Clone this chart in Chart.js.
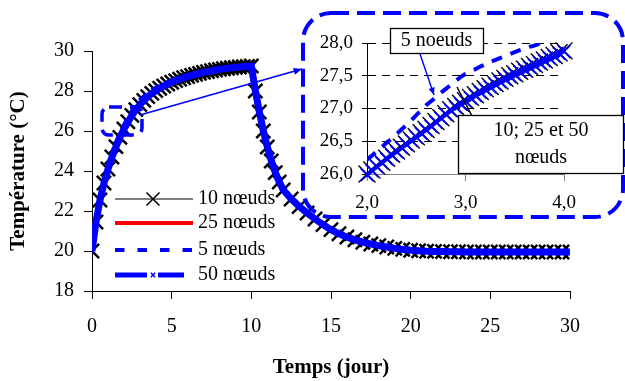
<!DOCTYPE html>
<html>
<head>
<meta charset="utf-8">
<script src="https://cdn.jsdelivr.net/npm/chart.js@4/dist/chart.umd.min.js"></script>
<style>
  html, body { margin: 0; padding: 0; background: #fff; }
  .layer { position: absolute; left: 0; top: 0; width: 625px; height: 381px; }
</style>
</head>
<body>
<div class="layer"><canvas id="main" width="625" height="381"></canvas></div>
<div class="layer"><canvas id="inset" width="625" height="381"></canvas></div>
<script>
// main chart : temps (jour) et température (°C)
const time = [0, 0.25, 0.5, 0.75, 1, 1.25, 1.5, 1.75, 2, 2.25, 2.5, 2.75, 3, 3.25, 3.5, 3.75,
  4, 4.25, 4.5, 4.75, 5, 5.25, 5.5, 5.75, 6, 6.25, 6.5, 6.75, 7, 7.25, 7.5, 7.75,
  8, 8.25, 8.5, 8.75, 9, 9.25, 9.5, 9.75, 10, 10.25, 10.5, 10.75, 11, 11.25, 11.5, 11.75,
  12, 12.5, 13, 13.5, 14, 14.5, 15, 15.5, 16, 16.5, 17, 17.5, 18, 18.5, 19, 19.5,
  20, 20.5, 21, 21.5, 22, 22.5, 23, 23.5, 24, 24.5, 25, 25.5, 26, 26.5, 27, 27.5,
  28, 28.5, 29, 29.5, 30];

const temp10 = [20.0, 21.45, 22.55, 23.4, 24.1, 24.7, 25.22, 25.68, 26.1, 26.46, 26.78, 27.07, 27.32, 27.53, 27.72, 27.88,
  28.02, 28.14, 28.25, 28.35, 28.44, 28.52, 28.59, 28.66, 28.72, 28.78, 28.83, 28.88, 28.93, 28.97, 29.01, 29.05,
  29.08, 29.11, 29.14, 29.16, 29.18, 29.2, 29.22, 29.23, 29.25, 28.0, 26.95, 26.0, 25.2, 24.5, 23.92, 23.45,
  23.05, 22.6, 22.22, 21.9, 21.6, 21.32, 21.07, 20.86, 20.7, 20.56, 20.44, 20.35, 20.27, 20.2, 20.13, 20.08,
  20.04, 20.01, 19.99, 19.98, 19.97, 19.96, 19.96, 19.95, 19.95, 19.95, 19.95, 19.95, 19.95, 19.95, 19.95, 19.95,
  19.95, 19.95, 19.95, 19.95, 19.95];

const temp25 = [20.0, 21.44, 22.54, 23.4, 24.1, 24.7, 25.21, 25.67, 26.09, 26.45, 26.77, 27.06, 27.31, 27.53, 27.72, 27.88,
  28.02, 28.14, 28.25, 28.35, 28.44, 28.52, 28.59, 28.66, 28.72, 28.78, 28.83, 28.88, 28.93, 28.97, 29.01, 29.05,
  29.08, 29.11, 29.14, 29.16, 29.18, 29.2, 29.22, 29.23, 29.25, 28.02, 26.97, 26.02, 25.21, 24.51, 23.93, 23.46,
  23.06, 22.6, 22.22, 21.9, 21.6, 21.32, 21.07, 20.86, 20.7, 20.56, 20.44, 20.35, 20.27, 20.2, 20.13, 20.08,
  20.04, 20.01, 19.99, 19.98, 19.97, 19.96, 19.96, 19.95, 19.95, 19.95, 19.95, 19.95, 19.95, 19.95, 19.95, 19.95,
  19.95, 19.95, 19.95, 19.95, 19.95];

const temp50 = [20.0, 21.44, 22.54, 23.39, 24.09, 24.69, 25.21, 25.67, 26.09, 26.45, 26.77, 27.06, 27.31, 27.52, 27.71, 27.87,
  28.01, 28.14, 28.25, 28.35, 28.44, 28.52, 28.59, 28.66, 28.72, 28.78, 28.83, 28.88, 28.93, 28.97, 29.01, 29.05,
  29.08, 29.11, 29.14, 29.16, 29.18, 29.2, 29.22, 29.23, 29.25, 28.02, 26.97, 26.02, 25.22, 24.52, 23.94, 23.46,
  23.06, 22.61, 22.23, 21.9, 21.6, 21.32, 21.07, 20.86, 20.7, 20.56, 20.44, 20.35, 20.27, 20.2, 20.13, 20.08,
  20.04, 20.01, 19.99, 19.98, 19.97, 19.96, 19.96, 19.95, 19.95, 19.95, 19.95, 19.95, 19.95, 19.95, 19.95, 19.95,
  19.95, 19.95, 19.95, 19.95, 19.95];

const temp5 = [20.0, 21.5, 22.65, 23.55, 24.3, 24.92, 25.45, 25.92, 26.32, 26.7, 27.03, 27.32, 27.56, 27.75, 27.92, 28.06,
  28.18, 28.29, 28.38, 28.47, 28.55, 28.62, 28.68, 28.74, 28.79, 28.84, 28.88, 28.92, 28.96, 29.0, 29.03, 29.06,
  29.09, 29.12, 29.14, 29.16, 29.18, 29.2, 29.22, 29.23, 29.24, 28.2, 27.2, 26.25, 25.42, 24.72, 24.12, 23.62,
  23.2, 22.7, 22.3, 21.96, 21.65, 21.37, 21.1, 20.89, 20.72, 20.58, 20.46, 20.36, 20.28, 20.21, 20.14, 20.09,
  20.05, 20.02, 20.0, 19.98, 19.97, 19.96, 19.96, 19.95, 19.95, 19.95, 19.95, 19.95, 19.95, 19.95, 19.95, 19.95,
  19.95, 19.95, 19.95, 19.95, 19.95];

const xTicks = [0, 5, 10, 15, 20, 25, 30];
const yTicks = [18, 20, 22, 24, 26, 28, 30];

// inset (zoom 2 - 4 jours)
const insetTime = [2.0, 2.05, 2.1, 2.15, 2.2, 2.25, 2.3, 2.35, 2.4, 2.45, 2.5, 2.55, 2.6, 2.65, 2.7, 2.75,
  2.8, 2.85, 2.9, 2.95, 3.0, 3.05, 3.1, 3.15, 3.2, 3.25, 3.3, 3.35, 3.4, 3.45, 3.5, 3.55,
  3.6, 3.65, 3.7, 3.75, 3.8, 3.85, 3.9, 3.95, 4.0, 4.05, 4.1];
const inset10 = [26.0, 26.06, 26.12, 26.18, 26.24, 26.3, 26.35, 26.41, 26.46, 26.52, 26.57, 26.63, 26.68, 26.74, 26.8, 26.86,
  26.92, 26.98, 27.03, 27.08, 27.12, 27.17, 27.21, 27.26, 27.3, 27.34, 27.38, 27.42, 27.46, 27.5, 27.53, 27.57,
  27.6, 27.64, 27.67, 27.71, 27.74, 27.78, 27.81, 27.85, 27.88, 27.91, 27.94];
const inset25 = [25.99, 26.05, 26.11, 26.17, 26.23, 26.29, 26.34, 26.4, 26.45, 26.51, 26.56, 26.62, 26.67, 26.73, 26.79, 26.85,
  26.91, 26.97, 27.02, 27.07, 27.11, 27.16, 27.2, 27.25, 27.29, 27.33, 27.37, 27.41, 27.45, 27.49, 27.52, 27.56,
  27.59, 27.63, 27.66, 27.7, 27.73, 27.77, 27.8, 27.84, 27.87, 27.9, 27.93];
const inset50 = [25.99, 26.05, 26.11, 26.17, 26.23, 26.29, 26.34, 26.4, 26.45, 26.51, 26.56, 26.62, 26.67, 26.73, 26.79, 26.85,
  26.91, 26.97, 27.02, 27.07, 27.11, 27.16, 27.2, 27.25, 27.29, 27.33, 27.37, 27.41, 27.45, 27.49, 27.52, 27.56,
  27.59, 27.63, 27.66, 27.7, 27.73, 27.77, 27.8, 27.84, 27.87, 27.9, 27.93];
const inset5 = [26.22, 26.28, 26.35, 26.41, 26.48, 26.54, 26.61, 26.68, 26.75, 26.82, 26.9, 26.97, 27.05, 27.11, 27.17, 27.24,
  27.3, 27.36, 27.42, 27.48, 27.53, 27.57, 27.6, 27.64, 27.67, 27.71, 27.74, 27.77, 27.8, 27.83, 27.86, 27.89,
  27.91, 27.94, 27.96, 27.99, 28.02, 28.05, 28.07, 28.1, 28.12, 28.15, 28.17];

const insetXTicks = [2, 3, 4];
const insetXLabels = ['2,0', '3,0', '4,0'];
const insetYTicks = [26, 26.5, 27, 27.5, 28];
const insetYLabels = ['26,0', '26,5', '27,0', '27,5', '28,0'];

const BLUE = '#0000ff';
const RED = '#ff0000';

Chart.defaults.font.family = 'Liberation Serif';
Chart.defaults.color = '#000';

function pts(xs, ys) {
  return xs.map((x, i) => ({ x: x, y: ys[i] }));
}

function drawCross(ctx, x, y, r, color, w) {
  ctx.save();
  ctx.setLineDash([]);
  ctx.strokeStyle = color;
  ctx.lineWidth = w;
  ctx.beginPath();
  ctx.moveTo(x - r, y - r); ctx.lineTo(x + r, y + r);
  ctx.moveTo(x + r, y - r); ctx.lineTo(x - r, y + r);
  ctx.stroke();
  ctx.restore();
}

function seg(ctx, x1, y1, x2, y2) {
  ctx.beginPath();
  ctx.moveTo(x1, y1);
  ctx.lineTo(x2, y2);
  ctx.stroke();
}

function arrow(ctx, x1, y1, x2, y2, size) {
  seg(ctx, x1, y1, x2, y2);
  const a = Math.atan2(y2 - y1, x2 - x1);
  ctx.beginPath();
  ctx.moveTo(x2, y2);
  ctx.lineTo(x2 - size * Math.cos(a - 0.4), y2 - size * Math.sin(a - 0.4));
  ctx.lineTo(x2 - size * Math.cos(a + 0.4), y2 - size * Math.sin(a + 0.4));
  ctx.closePath();
  ctx.fill();
}

function roundBox(ctx, x, y, w, h, r) {
  ctx.beginPath();
  ctx.moveTo(x + r, y);
  ctx.lineTo(x + w - r, y);
  ctx.arcTo(x + w, y, x + w, y + r, r);
  ctx.lineTo(x + w, y + h - r);
  ctx.arcTo(x + w, y + h, x + w - r, y + h, r);
  ctx.lineTo(x + r, y + h);
  ctx.arcTo(x, y + h, x, y + h - r, r);
  ctx.lineTo(x, y + r);
  ctx.arcTo(x, y, x + r, y, r);
  ctx.closePath();
}

// legend drawn like the excel one (line + marker in the middle)
const legendPlugin = {
  id: 'excelLegend',
  afterDraw(chart) {
    const ctx = chart.ctx;
    const x1 = 115, x2 = 193, tx = 198;
    ctx.save();
    ctx.font = '20px "Liberation Serif"';
    ctx.textBaseline = 'middle';
    ctx.fillStyle = '#000';

    ctx.strokeStyle = '#000'; ctx.lineWidth = 1;
    seg(ctx, x1, 199, x2, 199);
    drawCross(ctx, 153, 199, 6.5, '#000', 1.5);
    ctx.fillText('10 nœuds', tx, 199);

    ctx.strokeStyle = RED; ctx.lineWidth = 4;
    seg(ctx, x1, 223, x2, 223);
    ctx.fillText('25 nœuds', tx, 223);

    ctx.strokeStyle = BLUE; ctx.lineWidth = 4;
    ctx.setLineDash([9.5, 13]);
    seg(ctx, x1, 250, x2, 250);
    ctx.setLineDash([]);
    ctx.fillText('5 nœuds', tx, 250);

    ctx.lineWidth = 5;
    seg(ctx, x1, 275, 147, 275);
    seg(ctx, 158, 275, 184, 275);
    drawCross(ctx, 153, 275, 2.2, BLUE, 1.5);
    ctx.fillText('50 nœuds', tx, 275);
    ctx.restore();
  }
};

// zoom frame, arrows and call-outs
const notePlugin = {
  id: 'notes',
  afterDraw(chart) {
    const ctx = chart.ctx;
    ctx.save();
    ctx.strokeStyle = BLUE;
    ctx.fillStyle = BLUE;

    ctx.lineWidth = 4;
    ctx.setLineDash([18, 8]);
    roundBox(ctx, 303, 13, 320, 204, 28);
    ctx.stroke();

    ctx.lineWidth = 3.5;
    ctx.setLineDash([13, 8]);
    roundBox(ctx, 102, 107, 40, 28, 7);
    ctx.stroke();

    ctx.setLineDash([]);
    ctx.lineWidth = 1.8;
    arrow(ctx, 140, 115, 302, 69, 9);

    ctx.lineWidth = 1.4;
    arrow(ctx, 420, 54, 434, 95, 8);

    ctx.strokeStyle = '#000';
    ctx.lineWidth = 1.5;
    seg(ctx, 457, 87, 473, 118);

    ctx.fillStyle = '#fff';
    ctx.lineWidth = 1.3;
    ctx.fillRect(390, 28, 93, 25);
    ctx.strokeRect(390.5, 28.5, 93, 25);
    ctx.fillRect(458, 115, 166, 58);
    ctx.strokeRect(458.5, 115.5, 165, 58);

    ctx.fillStyle = '#000';
    ctx.font = '20px "Liberation Serif"';
    ctx.textAlign = 'center';
    ctx.textBaseline = 'middle';
    ctx.fillText('5 noeuds', 436.5, 41);
    ctx.fillText('10; 25 et 50', 541, 131);
    ctx.fillText('nœuds', 541, 158);
    ctx.restore();
  }
};

new Chart(document.getElementById('main'), {
  type: 'line',
  data: {
    datasets: [
      { label: '5 nœuds', data: pts(time, temp5), borderColor: BLUE, borderWidth: 3.5,
        borderDash: [9, 7], pointRadius: 0 },
      { label: '50 nœuds', data: pts(time, temp50), borderColor: BLUE, borderWidth: 7,
        pointStyle: 'crossRot', pointRadius: 3, pointBorderColor: BLUE, pointBorderWidth: 1.5 },
      { label: '25 nœuds', data: pts(time, temp25), borderColor: RED, borderWidth: 4, pointRadius: 0 },
      { label: '10 nœuds', data: pts(time, temp10), borderColor: '#000', borderWidth: 1,
        pointStyle: 'crossRot', pointRadius: 10, pointBorderColor: '#000', pointBorderWidth: 2.5 }
    ]
  },
  options: {
    responsive: false,
    animation: false,
    layout: { padding: { left: 0, top: 51, right: 55, bottom: 0 } },
    plugins: { legend: { display: false }, tooltip: { enabled: false } },
    elements: { line: { tension: 0, fill: false } },
    scales: {
      x: {
        type: 'linear', min: 0, max: 30,
        afterBuildTicks: s => { s.ticks = xTicks.map(v => ({ value: v })); },
        afterFit: s => { s.height = 90; },
        grid: { drawOnChartArea: false, tickLength: 8, color: '#000' },
        border: { color: '#000', width: 1 },
        ticks: { padding: 16, font: { size: 20 }, maxRotation: 0, callback: v => String(v) },
        title: { display: true, text: 'Temps (jour)', font: { size: 21, weight: 'bold' },
          padding: { top: 0, bottom: 1 } }
      },
      y: {
        type: 'linear', min: 18, max: 30,
        afterBuildTicks: s => { s.ticks = yTicks.map(v => ({ value: v })); },
        afterFit: s => { s.width = 92; },
        grid: { drawOnChartArea: false, tickLength: 8, color: '#000' },
        border: { color: '#000', width: 1 },
        ticks: { padding: 10, font: { size: 20 }, callback: v => String(v) },
        title: { display: true, text: 'Température (°C)', font: { size: 21, weight: 'bold' },
          padding: { top: 6, bottom: 0 } }
      }
    }
  },
  plugins: [legendPlugin]
});

new Chart(document.getElementById('inset'), {
  type: 'line',
  data: {
    datasets: [
      { label: '5 nœuds', data: pts(insetTime, inset5), borderColor: BLUE, borderWidth: 4,
        borderDash: [11, 9], pointRadius: 0 },
      { label: '50 nœuds', data: pts(insetTime, inset50), borderColor: BLUE, borderWidth: 4, clip: false,
        pointStyle: 'crossRot', pointRadius: 9, pointBorderColor: BLUE, pointBorderWidth: 1.8 },
      { label: '25 nœuds', data: pts(insetTime, inset25), borderColor: RED, borderWidth: 1.5, clip: false,
        pointRadius: 0 },
      { label: '10 nœuds', data: pts(insetTime, inset10), borderColor: '#000', borderWidth: 1, clip: false,
        pointStyle: 'crossRot', pointRadius: 12, pointBorderColor: '#000', pointBorderWidth: 1.4 }
    ]
  },
  options: {
    responsive: false,
    animation: false,
    layout: { padding: { left: 290, top: 43, right: 61, bottom: 167 } },
    plugins: { legend: { display: false }, tooltip: { enabled: false } },
    elements: { line: { tension: 0, fill: false } },
    scales: {
      x: {
        type: 'linear', min: 2, max: 4,
        afterBuildTicks: s => { s.ticks = insetXTicks.map(v => ({ value: v })); },
        afterFit: s => { s.height = 40; },
        grid: { drawOnChartArea: false, tickLength: 7, color: '#808080' },
        border: { color: '#808080', width: 1 },
        ticks: { padding: 11, font: { size: 19 }, maxRotation: 0, callback: (v, i) => insetXLabels[i] }
      },
      y: {
        type: 'linear', min: 26, max: 28,
        afterBuildTicks: s => { s.ticks = insetYTicks.map(v => ({ value: v })); },
        afterFit: s => { s.width = 77; },
        grid: { tickLength: 5, color: '#000' },
        border: { color: '#000', width: 1, dash: [8, 6] },
        ticks: { padding: 9, font: { size: 19 }, callback: (v, i) => insetYLabels[i] }
      }
    }
  },
  plugins: [notePlugin]
});
</script>
</body>
</html>
